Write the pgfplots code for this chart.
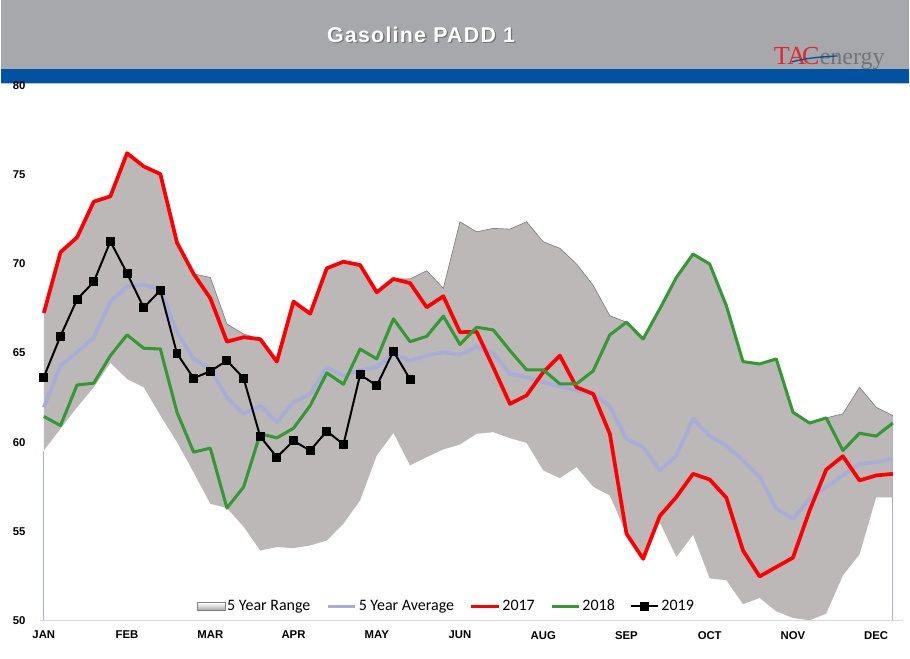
\documentclass[border=0pt]{standalone}
\usepackage{pgfplots}
\pgfplotsset{compat=1.18}
\usepgfplotslibrary{fillbetween}
\usepackage{pgfplotstable}
\usepackage{fontspec}
\setmainfont{Liberation Sans}
\newfontfamily\calibri{Carlito}
\newfontfamily\logofont{Liberation Serif}
\newfontfamily\titlefont[LetterSpace=6]{Liberation Sans}

\definecolor{hdrgray}{RGB}{166,168,171}
\definecolor{hdrblue}{RGB}{0,83,160}
\definecolor{rangegray}{RGB}{188,184,183}
\definecolor{avgcol}{RGB}{168,172,216}
\definecolor{g18}{RGB}{51,153,51}
\definecolor{tacred}{RGB}{225,40,45}

\pgfplotsset{
  legline/.style={legend image code/.code={
    \draw[mark repeat=2,mark phase=2,##1] plot coordinates {(0cm,0cm) (0.36cm,0cm) (0.72cm,0cm)};}},
  legarea/.style={legend image code/.code={
    \draw[top color=white, bottom color=black!35, draw=black!50] (0cm,-0.1cm) rectangle (0.72cm,0.1cm);}},
}

% weekly values, index 0 = first week of JAN
\pgfplotstableread{
x  up    lo    avg   y17   y18
0  67.25 59.53 61.96 67.25 61.44
1  70.66 60.75 64.30 70.66 60.93
2  71.50 61.96 65.05 71.50 63.21
3  73.50 63.08 65.89 73.50 63.31
4  73.80 64.45 67.89 73.80 64.86
5  76.22 63.55 68.73 76.22 66.02
6  75.48 63.08 68.84 75.48 65.27
7  75.05 61.50 68.56 75.05 65.23
8  71.20 60.00 66.17 71.20 61.68
9  69.44 58.30 64.67 69.44 59.44
10 69.25 56.54 64.10 68.08 59.66
11 66.63 56.30 62.52 65.64 56.30
12 66.07 55.25 61.59 65.89 57.48
13 65.78 53.92 62.05 65.78 60.47
14 64.52 54.11 61.12 64.52 60.24
15 67.89 54.05 62.24 67.89 60.78
16 67.21 54.20 62.71 67.21 62.05
17 69.76 54.48 64.20 69.76 63.89
18 70.13 55.42 63.73 70.13 63.25
19 69.94 56.73 64.05 69.94 65.23
20 68.41 59.25 64.20 68.41 64.67
21 69.16 60.52 64.95 69.16 66.92
22 69.16 58.69 64.58 68.93 65.64
23 69.62 59.16 64.86 67.57 65.94
24 68.64 59.59 65.05 68.19 67.07
25 72.37 59.87 64.90 66.17 65.48
26 71.81 60.47 65.36 66.20 66.45
27 72.00 60.56 65.00 64.20 66.30
28 71.96 60.22 63.83 62.15 65.14
29 72.37 59.96 63.65 62.62 64.06
30 71.25 58.41 63.37 63.93 64.06
31 70.88 57.98 63.12 64.86 63.27
32 70.00 58.60 62.90 63.08 63.27
33 68.80 57.50 62.71 62.71 64.00
34 67.10 57.00 62.02 60.47 66.02
35 66.73 54.86 60.19 54.86 66.73
36 65.79 53.45 59.72 53.45 65.79
37 67.48 55.50 58.41 55.85 67.48
38 69.25 53.55 59.25 56.92 69.25
39 70.56 54.80 61.31 58.22 70.56
40 70.00 52.35 60.34 57.90 70.00
41 67.66 52.25 59.81 56.88 67.66
42 64.52 50.90 58.97 53.92 64.52
43 64.39 51.25 58.04 52.46 64.39
44 64.67 50.50 56.26 52.99 64.67
45 61.68 50.13 55.70 53.51 61.68
46 61.07 50.00 56.82 56.16 61.07
47 61.36 50.37 57.48 58.46 61.36
48 61.59 52.52 58.13 59.21 59.53
49 63.08 53.70 58.78 57.85 60.50
50 61.96 56.90 58.88 58.13 60.34
51 61.49 56.90 59.06 58.22 61.07
}\ranges

\pgfplotstableread{
x  y19
0  63.65
1  65.95
2  68.02
3  69.00
4  71.27
5  69.48
6  67.55
7  68.52
8  64.97
9  63.59
10 63.98
11 64.58
12 63.59
13 60.31
14 59.16
15 60.07
16 59.53
17 60.62
18 59.87
19 63.79
20 63.17
21 65.10
22 63.53
}\ynineteen

\begin{document}
\begin{tikzpicture}
\begin{scope}[x=0.75pt,y=0.75pt]
\path (0,0) rectangle (910,659);
% header
\fill[hdrgray] (0,590) rectangle (910,659);
\fill[hdrblue] (0,576) rectangle (910,590);
\draw[black!25, line width=0.8pt] (0,575.5) -- (910,575.5);
\node[text=black!55, font=\titlefont\bfseries\fontsize{16}{19}\selectfont, inner sep=0pt] at (422.3,623.2) {Gasoline PADD 1};
\node[text=white, font=\titlefont\bfseries\fontsize{16}{19}\selectfont, inner sep=0pt] at (421,624.5) {Gasoline PADD 1};
% logo
\node[anchor=base west, inner sep=0pt] at (774,594) {\logofont\fontsize{19.5}{22}\selectfont\color{tacred}T\kern-1.8pt A\kern-3pt C\kern0.3pt{\fontsize{18}{21}\selectfont\color{black!55}energy}};
\draw[hdrblue, line width=1pt] (792,597) .. controls (808,601) and (820,602) .. (838,603);
\end{scope}

\begin{axis}[
    at={(30pt,28.5pt)}, anchor=south west,
    scale only axis,
    width=647.5pt, height=401.25pt,
    xmin=-0.2, xmax=51.6,
    ymin=50, ymax=80,
    axis x line*=bottom,
    axis y line*=left,
    x axis line style={draw=black!15, line width=1pt},
    y axis line style={draw=none},
    major tick length=0pt,
    xtick={0,5,...,50},
    xticklabels={JAN,FEB,MAR,APR,MAY,JUN,AUG,SEP,OCT,NOV,DEC},
    ytick={50,55,...,80},
    /pgf/number format/assume math mode=true,
    ticklabel style={font=\bfseries\fontsize{8.5}{10}\selectfont},
    xticklabel style={inner sep=0pt, anchor=north, yshift=-8pt},
    yticklabel style={inner sep=0pt, anchor=west, xshift=-21pt},
    legend style={at={(0.471,0.026)}, anchor=center, draw=none, fill=none,
        font=\calibri\fontsize{12}{14}\selectfont,
        /tikz/every even column/.append style={column sep=10pt},
        nodes={inner xsep=1.5pt}},
    legend columns=5,
    legend cell align=left,
]
\addplot[name path=U, draw=none, forget plot] table[x=x,y=up]{\ranges};
\addplot[name path=L, draw=none, forget plot] table[x=x,y=lo]{\ranges};
\addplot[fill=rangegray, draw=none, legarea] fill between[of=U and L];
\addlegendentry{5 Year Range}
\addplot[draw=black!50, line width=0.5pt, forget plot] table[x=x,y=up]{\ranges};
\addplot[avgcol, line width=1pt, forget plot] coordinates {(0,50) (0,59.53)};
\addplot[avgcol, line width=1pt, forget plot] coordinates {(51,50) (51,61.49)};

\addplot[avgcol, line width=2.8pt, line join=round, no marks, legline] table[x=x,y=avg]{\ranges};
\addlegendentry{5 Year Average}
\addplot[red, line width=2.8pt, line join=round, no marks, legline] table[x=x,y=y17]{\ranges};
\addlegendentry{2017}
\addplot[g18, line width=2.3pt, line join=round, no marks, legline] table[x=x,y=y18]{\ranges};
\addlegendentry{2018}
\addplot[black, line width=1.5pt, mark=square*, mark size=2.6pt, legline] table[x=x,y=y19]{\ynineteen};
\addlegendentry{2019}
\end{axis}
\end{tikzpicture}
\end{document}
